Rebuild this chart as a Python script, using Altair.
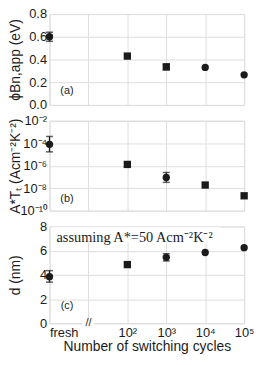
import altair as alt
import pandas as pd

# ---- data ----
pos = [0, 2, 3, 4, 5]          # fresh, 1e2, 1e3, 1e4, 1e5 (axis break between fresh and 1e2)
phi = [0.60, 0.43, 0.335, 0.33, 0.265]
phi_shape = ["circle", "square", "square", "circle", "circle"]
phi_err_pos = [0, 3]
phi_lo = [0.56, 0.31]
phi_hi = [0.64, 0.36]

at = [8e-5, 1.3e-6, 9e-8, 1.9e-8, 2.1e-9]
at_shape = ["circle", "square", "circle", "square", "square"]
at_err_pos = [0, 2, 3]
at_lo = [1.7e-5, 7.5e-7, 3.3e-8]
at_hi = [4e-4, 2.0e-6, 2.5e-7]

dd = [3.85, 4.85, 5.45, 5.85, 6.25]
d_shape = ["circle", "square", "circle", "circle", "circle"]
d_err_pos = [0, 3]
d_lo = [3.4, 5.15]
d_hi = [4.35, 5.75]

x_ticks = [0, 1, 2, 3, 4, 5]
FONT = "Liberation Sans"
INK = "#1b1b1b"
W = 197

x_label_expr = ("datum.value == 0 ? 'fresh' : datum.value == 2 ? '10²' : datum.value == 3 ? '10³' : "
                "datum.value == 4 ? '10⁴' : datum.value == 5 ? '10⁵' : ''")

XSCALE = alt.Scale(domain=[0, 5], nice=False, zero=False)


def xaxis(bottom):
    if bottom:
        return alt.Axis(values=x_ticks, labelExpr=x_label_expr, title="Number of switching cycles",
                        grid=True, ticks=False, domain=False, labelPadding=3, titlePadding=1,
                        labelFontSize=13, titleFontSize=14, labelFont=FONT, titleFont=FONT,
                        labelColor=INK, titleColor=INK, titleFontWeight="normal",
                        labelFlush=False, labelOverlap=False,
                        labelAlign={"condition": {"test": "datum.value == 0", "value": "left"},
                                    "value": "center"})
    return alt.Axis(values=x_ticks, labels=False, title=None, grid=True, ticks=False,
                    domain=False, minExtent=0, maxExtent=0)


def panel(vals, shapes, epos, lo, hi, yscale, yaxis, height, bottom, labels, extra_fn=None):
    df = pd.DataFrame({"x": pos, "y": vals, "shape": shapes})
    edf = pd.DataFrame({"x": epos, "lo": lo, "hi": hi})
    X = alt.X("x:Q", scale=XSCALE, axis=xaxis(bottom))

    def Y(field):
        return alt.Y(field, scale=yscale, axis=yaxis)

    pts = alt.Chart(df).mark_point(filled=True, opacity=1, color=INK, size=55).encode(
        x=X, y=Y("y:Q"), shape=alt.Shape("shape:N", scale=None))
    rule = alt.Chart(edf).mark_rule(color=INK, strokeWidth=1.3).encode(
        x=X, y=Y("lo:Q"), y2="hi:Q")
    cap_lo = alt.Chart(edf).mark_tick(color=INK, orient="horizontal", size=7, thickness=1.5).encode(
        x=X, y=Y("lo:Q"))
    cap_hi = alt.Chart(edf).mark_tick(color=INK, orient="horizontal", size=7, thickness=1.5).encode(
        x=X, y=Y("hi:Q"))
    lab = alt.Chart(pd.DataFrame(labels)).mark_text(font=FONT, fontSize=11, color=INK).encode(
        x=X, y=Y("y:Q"), text="t:N")
    extra = extra_fn(X, Y) if extra_fn else []
    layers = [pts, lab] + extra + [rule, cap_lo, cap_hi]
    return alt.layer(*layers).properties(width=W, height=height)


yax_common = dict(grid=True, ticks=False, domain=False, labelFontSize=13, titleFontSize=14,
                  labelFont=FONT, titleFont=FONT, labelColor=INK, titleColor=INK,
                  titleFontWeight="normal", minExtent=27, maxExtent=27, labelPadding=3,
                  titlePadding=0, labelOverlap=False, labelFlush=False)

# panel (a)
ya = alt.Axis(values=[0, 0.2, 0.4, 0.6, 0.8], format=".1f", title="ϕBn,app (eV)", **yax_common)
pa = panel(phi, phi_shape, phi_err_pos, phi_lo, phi_hi,
           alt.Scale(domain=[0, 0.8], nice=False, zero=False), ya, 92, False,
           {"x": [0.45], "y": [0.12], "t": ["(a)"]})

# panel (b)
b_expr = ("datum.value < 5e-10 ? '10⁻¹⁰' : datum.value < 5e-8 ? '10⁻⁸' : datum.value < 5e-6 ? '10⁻⁶' : "
          "datum.value < 5e-4 ? '10⁻⁴' : '10⁻²'")
yb = alt.Axis(values=[1e-10, 1e-8, 1e-6, 1e-4, 1e-2], labelExpr=b_expr,
              title="A*Tₜ (Acm⁻²K⁻²)", **yax_common)
pb = panel(at, at_shape, at_err_pos, at_lo, at_hi,
           alt.Scale(type="log", domain=[1e-10, 1e-2], nice=False), yb, 91, False,
           {"x": [0.45], "y": [1.1e-9], "t": ["(b)"]})


# panel (c)
def c_extra(X, Y):
    box = alt.Chart(pd.DataFrame({"x": [0.04], "x2": [4.4], "y": [6.65], "y2": [7.93]})).mark_rect(
        color="white").encode(x=X, x2="x2:Q", y=Y("y:Q"), y2="y2:Q")
    note = alt.Chart(pd.DataFrame({"x": [0.18], "y": [7.05], "t": ["assuming A*=50 Acm⁻²K⁻²"]})).mark_text(
        font="Liberation Serif", fontSize=14.5, color=INK, align="left").encode(
        x=X, y=Y("y:Q"), text="t:N")
    gap = alt.Chart(pd.DataFrame({"x": [0.85], "x2": [1.15], "y": [0]})).mark_rule(
        color="white", strokeWidth=4).encode(x=X, x2="x2:Q", y=Y("y:Q"))
    brk = alt.Chart(pd.DataFrame({"x": [1.0], "y": [0], "t": ["//"]})).mark_text(
        font=FONT, fontSize=11, color=INK, baseline="middle").encode(
        x=X, y=Y("y:Q"), text="t:N")
    return [box, note, gap, brk]


yc = alt.Axis(values=[0, 2, 4, 6, 8], title="d (nm)", **yax_common)
pc = panel(dd, d_shape, d_err_pos, d_lo, d_hi,
           alt.Scale(domain=[0, 8], nice=False, zero=False), yc, 98, True,
           {"x": [0.45], "y": [1.4], "t": ["(c)"]}, c_extra)

chart = alt.vconcat(pa, pb, pc, spacing=16, bounds="flush").configure_view(
    stroke=INK, strokeWidth=1.5).configure_axis(gridColor="#dcdcdc", gridWidth=1).configure(
    padding={"left": 0, "top": -3, "right": 0, "bottom": 0})

chart.save("out.html", embed_options={"renderer": "svg", "actions": False})
